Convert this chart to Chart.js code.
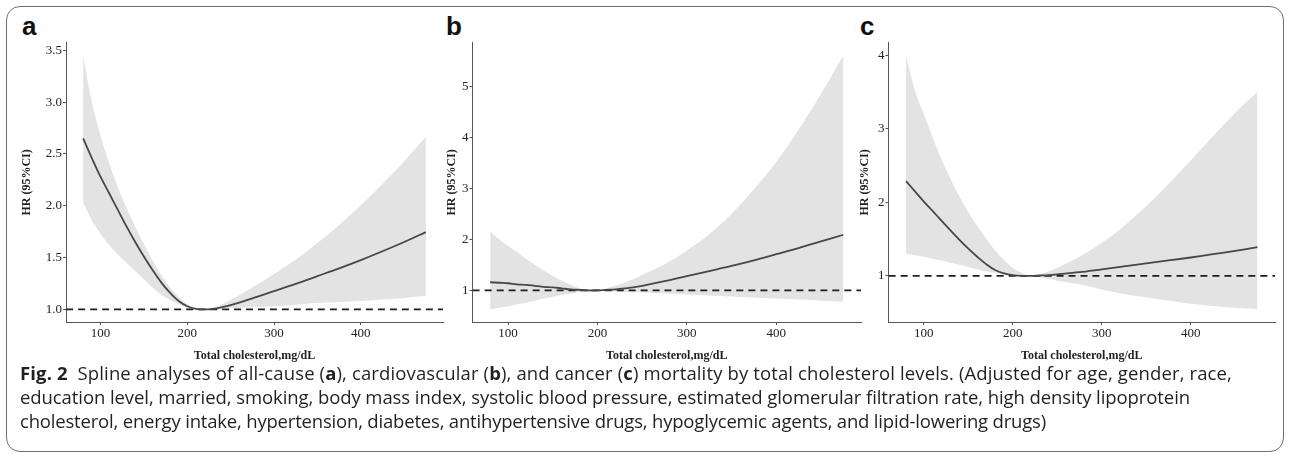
<!DOCTYPE html>
<html lang="en">
<head>
<meta charset="UTF-8">
<title>Spline analyses by total cholesterol</title>
<script src="https://cdn.jsdelivr.net/npm/chart.js"></script>
<style>
    body {
        margin: 0;
        width: 1290px;
        height: 458px;
        position: relative;
        overflow: hidden;
        background: #fff;
        font-family: 'Open Sans', sans-serif;
    }
    .frame {
        position: absolute;
        left: 6px;
        top: 6px;
        width: 1278px;
        height: 446px;
        border: 1px solid #707070;
        border-radius: 14px;
        box-sizing: border-box;
    }
    .panel {
        position: absolute;
        top: 34px;
        height: 336px;
    }
    .tag {
        position: absolute;
        top: 11px;
        font: bold 26px 'Liberation Sans', Arial, sans-serif;
        color: #111;
    }
    .caption {
        position: absolute;
        left: 20px;
        top: 361px;
        font-size: 18.5px;
        line-height: 24px;
        color: #231f20;
        white-space: nowrap;
    }
    .caption span { display: inline-block; }
</style>
</head>
<body>
<div class="frame"></div>

<div class="tag" style="left:22px">a</div>
<div class="tag" style="left:446px">b</div>
<div class="tag" style="left:860px">c</div>

<div class="panel" style="left:12px;width:436px"><canvas id="chartA"></canvas></div>
<div class="panel" style="left:437px;width:429px"><canvas id="chartB"></canvas></div>
<div class="panel" style="left:850px;width:430px"><canvas id="chartC"></canvas></div>

<div class="caption">
    <span class="cap" data-w="1212"><b>Fig. 2</b>&nbsp; Spline analyses of all-cause (<b>a</b>), cardiovascular (<b>b</b>), and cancer (<b>c</b>) mortality by total cholesterol levels. (Adjusted for age, gender, race,</span><br>
    <span class="cap" data-w="1170">education level, married, smoking, body mass index, systolic blood pressure, estimated glomerular filtration rate, high density lipoprotein</span><br>
    <span class="cap" data-w="1026">cholesterol, energy intake, hypertension, diabetes, antihypertensive drugs, hypoglycemic agents, and lipid-lowering drugs)</span>
</div>

<script>
    // total cholesterol, mg/dL (shared by all three panels)
    const cholesterol = [80, 90, 100, 110, 120, 130, 140, 150, 160, 170, 180, 190, 200, 210, 220, 230, 240, 250, 275, 300, 325, 350, 375, 400, 425, 450, 475];
    const xTicks = [100, 200, 300, 400];

    // a: all-cause mortality
    const hrA    = [2.65, 2.46, 2.28, 2.12, 1.96, 1.80, 1.65, 1.51, 1.38, 1.26, 1.16, 1.08, 1.03, 1.005, 1.00, 1.005, 1.02, 1.04, 1.105, 1.175, 1.245, 1.32, 1.395, 1.475, 1.56, 1.65, 1.745];
    const upperA = [3.45, 3.00, 2.68, 2.41, 2.18, 1.98, 1.80, 1.63, 1.47, 1.33, 1.21, 1.12, 1.05, 1.01, 1.00, 1.02, 1.05, 1.09, 1.21, 1.34, 1.48, 1.64, 1.815, 2.005, 2.21, 2.43, 2.665];
    const lowerA = [2.03, 1.86, 1.73, 1.62, 1.53, 1.45, 1.37, 1.29, 1.21, 1.14, 1.09, 1.05, 1.02, 1.00, 1.00, 1.00, 1.005, 1.01, 1.02, 1.03, 1.045, 1.06, 1.07, 1.08, 1.095, 1.11, 1.13];
    const yTicksA = [1.0, 1.5, 2.0, 2.5, 3.0, 3.5];

    // b: cardiovascular mortality
    const hrB    = [1.16, 1.15, 1.14, 1.12, 1.11, 1.09, 1.07, 1.06, 1.04, 1.02, 1.01, 1.00, 1.00, 1.01, 1.02, 1.04, 1.06, 1.09, 1.18, 1.28, 1.38, 1.48, 1.59, 1.71, 1.83, 1.96, 2.09];
    const upperB = [2.17, 2.00, 1.87, 1.75, 1.62, 1.50, 1.39, 1.28, 1.19, 1.11, 1.04, 1.01, 1.01, 1.04, 1.09, 1.15, 1.22, 1.30, 1.51, 1.78, 2.10, 2.50, 2.98, 3.52, 4.15, 4.85, 5.60];
    const lowerB = [0.63, 0.66, 0.69, 0.73, 0.76, 0.80, 0.84, 0.87, 0.91, 0.94, 0.97, 0.99, 0.99, 0.985, 0.98, 0.97, 0.965, 0.96, 0.94, 0.92, 0.90, 0.88, 0.86, 0.84, 0.82, 0.80, 0.78];
    const yTicksB = [1, 2, 3, 4, 5];

    // c: cancer mortality
    const hrC    = [2.29, 2.15, 2.01, 1.88, 1.75, 1.62, 1.49, 1.37, 1.26, 1.16, 1.08, 1.035, 1.01, 1.00, 1.00, 1.005, 1.01, 1.02, 1.05, 1.09, 1.13, 1.17, 1.21, 1.25, 1.295, 1.34, 1.39];
    const upperC = [4.00, 3.52, 3.20, 2.88, 2.58, 2.32, 2.08, 1.87, 1.68, 1.51, 1.35, 1.22, 1.11, 1.04, 1.00, 1.02, 1.06, 1.11, 1.26, 1.45, 1.68, 1.95, 2.25, 2.57, 2.90, 3.22, 3.51];
    const lowerC = [1.30, 1.28, 1.26, 1.23, 1.21, 1.18, 1.15, 1.12, 1.09, 1.06, 1.04, 1.02, 1.01, 1.00, 1.00, 0.98, 0.96, 0.935, 0.885, 0.815, 0.755, 0.71, 0.66, 0.62, 0.59, 0.565, 0.545];
    const yTicksC = [1, 2, 3, 4];

    // ggplot-style 5% expansion of a range
    function expand(lo, hi) {
        const d = (hi - lo) * 0.05;
        return [lo - d, hi + d];
    }

    const serif = "'Liberation Serif', 'Times New Roman', serif";
    const axisColor = '#555';

    function makeChart(id, hr, upper, lower, yTicks, decimals, yAxisWidth) {
        const [xMin, xMax] = expand(Math.min(...cholesterol), Math.max(...cholesterol));
        const [yMin, yMax] = expand(Math.min(1, ...lower), Math.max(1, ...upper));
        const pts = arr => cholesterol.map((x, i) => ({ x: x, y: arr[i] }));

        return new Chart(document.getElementById(id), {
            type: 'line',
            data: {
                datasets: [
                    { data: pts(upper), borderWidth: 0, pointRadius: 0, fill: false, order: 3 },
                    { data: pts(lower), borderWidth: 0, pointRadius: 0, fill: 0,
                      backgroundColor: '#e3e3e3', order: 2 },
                    { data: [{ x: xMin, y: 1 }, { x: xMax, y: 1 }], borderColor: '#1e1e1e',
                      borderWidth: 1.8, borderDash: [7, 5], pointRadius: 0, fill: false, order: 1 },
                    { data: pts(hr), borderColor: '#474747', borderWidth: 1.8, pointRadius: 0,
                      fill: false, order: 0 }
                ]
            },
            options: {
                animation: false,
                responsive: true,
                maintainAspectRatio: false,
                datasets: { line: { tension: 0.35 } },
                layout: { padding: { top: 6, right: 5, left: 0, bottom: 0 } },
                plugins: {
                    legend: { display: false },
                    tooltip: { enabled: false },
                    filler: { drawTime: 'beforeDatasetsDraw' }
                },
                scales: {
                    x: {
                        type: 'linear',
                        min: xMin,
                        max: xMax,
                        afterBuildTicks: s => { s.ticks = xTicks.map(v => ({ value: v })); },
                        afterFit: s => { s.height = 48; },
                        grid: { drawOnChartArea: false, drawTicks: true, tickLength: 3, color: axisColor },
                        border: { display: true, color: axisColor, width: 1 },
                        ticks: { font: { family: serif, size: 13 }, color: '#222', padding: 1,
                                 maxRotation: 0, autoSkip: false },
                        title: { display: true, text: 'Total cholesterol,mg/dL', color: '#222',
                                 font: { family: serif, size: 12, weight: 'bold' },
                                 padding: { top: 0, bottom: 7 } }
                    },
                    y: {
                        min: yMin,
                        max: yMax,
                        afterBuildTicks: s => { s.ticks = yTicks.map(v => ({ value: v })); },
                        afterFit: s => { s.width = yAxisWidth; },
                        grid: { drawOnChartArea: false, drawTicks: true, tickLength: 3, color: axisColor },
                        border: { display: true, color: axisColor, width: 1 },
                        ticks: { font: { family: serif, size: 13 }, color: '#222', padding: 1,
                                 callback: v => v.toFixed(decimals) },
                        title: { display: true, text: 'HR (95%CI)', color: '#222',
                                 font: { family: serif, size: 12, weight: 'bold' },
                                 padding: { top: 8, bottom: 0 } }
                    }
                }
            }
        });
    }

    makeChart('chartA', hrA, upperA, lowerA, yTicksA, 1, 54);
    makeChart('chartB', hrB, upperB, lowerB, yTicksB, 0, 35.5);
    makeChart('chartC', hrC, upperC, lowerC, yTicksC, 0, 38.5);

    // spread each caption line so it ends where it does in the figure
    document.querySelectorAll('.cap').forEach(el => {
        const extra = (Number(el.dataset.w) - el.getBoundingClientRect().width) / el.textContent.length;
        el.style.letterSpacing = extra.toFixed(3) + 'px';
    });
</script>
</body>
</html>
